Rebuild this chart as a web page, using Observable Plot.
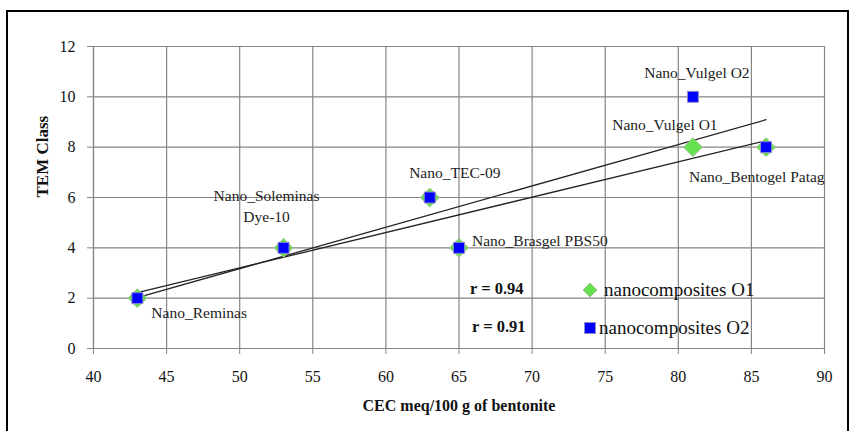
<!DOCTYPE html>
<html><head><meta charset="utf-8">
<script src="https://cdn.jsdelivr.net/npm/d3@7"></script>
<script src="https://cdn.jsdelivr.net/npm/@observablehq/plot@0.6"></script>
<style>
body{margin:0;background:#fff;font-family:"Liberation Serif","Times New Roman",serif;}
#wrap{position:relative;width:852px;height:431px;overflow:hidden;}
#frame{position:absolute;left:6px;top:10px;width:843px;height:430px;border:2px solid #000;box-sizing:border-box;pointer-events:none;}
.leg{position:absolute;font-family:"Liberation Serif","Times New Roman",serif;font-size:19px;color:#111;white-space:nowrap;line-height:1;}
.r{font-weight:bold;font-size:16.5px;}
</style></head>
<body><div id="wrap"><div id="frame"></div></div>
<script>
const cec = [43, 53, 63, 65, 81, 86];
const o1 = [2, 4, 6, 4, 8, 8];
const o2 = [2, 4, 6, 4, 10, 8];
const names = ["Nano_Reminas", "Nano_Soleminas\nDye-10", "Nano_TEC-09", "Nano_Brasgel PBS50", "Nano_Vulgel", "Nano_Bentogel Patag"];
const xTicks = [40, 45, 50, 55, 60, 65, 70, 75, 80, 85, 90];
const yTicks = [0, 2, 4, 6, 8, 10, 12];
const series = ["nanocomposites O1", "nanocomposites O2"];
const rValues = ["r = 0.94", "r = 0.91"];

const d1 = cec.map((x, i) => ({x, y: o1[i], name: names[i]}));
const d2 = cec.map((x, i) => ({x, y: o2[i], name: names[i]}));

const font = "Liberation Serif";
const FS = 15.5;
const lbl = (i, text, opts) => Plot.text([d2[i]], {x: "x", y: "y", text: () => text, fontFamily: font, fontSize: FS, fill: "#222", ...opts});

const chart = Plot.plot({
  width: 852, height: 431,
  marginLeft: 93, marginRight: 28, marginTop: 46, marginBottom: 83,
  x: {domain: [40, 90]},
  y: {domain: [0, 12]},
  style: {background: "transparent", fontFamily: font},
  marks: [
    Plot.gridX(xTicks, {stroke: "#858585", strokeOpacity: 1, strokeWidth: 1.2}),
    Plot.gridY(yTicks, {stroke: "#858585", strokeOpacity: 1, strokeWidth: 1.2}),
    Plot.axisX(xTicks, {tickSize: 6, tickPadding: 16, fontSize: 16, stroke: "#858585", fill: "#111", label: null}),
    Plot.axisY(yTicks, {tickSize: 6, tickPadding: 12, fontSize: 16, stroke: "#858585", fill: "#111", label: null}),
    Plot.ruleY([0], {stroke: "#858585", strokeWidth: 1.2}),
    Plot.ruleX([40], {stroke: "#858585", strokeWidth: 1.2}),
    Plot.linearRegressionY(d1, {x: "x", y: "y", ci: 0, stroke: "#222", strokeWidth: 1.3}),
    Plot.linearRegressionY(d2, {x: "x", y: "y", ci: 0, stroke: "#222", strokeWidth: 1.3}),
    Plot.dot(d1, {x: "x", y: "y", symbol: "diamond2", r: 8.5, fill: "#66e04c", stroke: "#9fbf96", strokeWidth: 1}),
    Plot.dot(d2.filter(d => !(d.x === 81 && d.y === 8)), {x: "x", y: "y", symbol: "square", r: 6.2, fill: "#0000ff", stroke: "#8c8cc8", strokeWidth: 1}),
    lbl(0, names[0], {textAnchor: "start", dx: 14, dy: 15}),
    lbl(1, "Nano_Soleminas", {dx: -17, dy: -52}),
    lbl(1, "Dye-10", {dx: -17, dy: -31}),
    lbl(2, names[2], {dx: 25, dy: -24}),
    lbl(3, names[3], {textAnchor: "start", dx: 13, dy: -7}),
    lbl(4, "Nano_Vulgel O2", {dx: 4, dy: -24}),
    Plot.text([d1[4]], {x: "x", y: "y", text: () => "Nano_Vulgel O1", dx: -28, dy: -22, fontFamily: font, fontSize: FS, fill: "#222"}),
    lbl(5, names[5], {textAnchor: "start", dx: -77, dy: 30}),
    Plot.text(["TEM Class"], {frameAnchor: "left", dx: -51, rotate: -90, fontFamily: font, fontSize: 17, fontWeight: "bold", fill: "#111"}),
    Plot.text(["CEC meq/100 g of bentonite"], {frameAnchor: "bottom", dy: 62, fontFamily: font, fontSize: 16, fontWeight: "bold", fill: "#111"})
  ]
});
const wrap = document.getElementById("wrap");
wrap.insertBefore(chart, wrap.firstChild);

const legend = [
  {r: rValues[0], label: series[0], top: 280, sym: '<svg width="16" height="16" style="vertical-align:middle"><polygon points="8,1 15,8 8,15 1,8" fill="#66e04c" stroke="#9fbf96"/></svg>'},
  {r: rValues[1], label: series[1], top: 318, sym: '<svg width="14" height="14" style="vertical-align:middle"><rect x="1.5" y="1.5" width="11" height="11" fill="#0000ff" stroke="#8c8cc8"/></svg>'}
];
legend.forEach((l, i) => {
  const a = document.createElement("div");
  a.className = "leg r"; a.style.left = (i === 0 ? 470 : 472) + "px"; a.style.top = (l.top + 1) + "px"; a.textContent = l.r;
  wrap.appendChild(a);
  const s = document.createElement("div");
  s.className = "leg"; s.style.left = (i === 0 ? 582 : 583) + "px"; s.style.top = (l.top - 2) + "px";
  s.innerHTML = l.sym + '<span style="margin-left:' + (i === 0 ? 6 : 2) + 'px;vertical-align:middle">' + l.label + '</span>';
  wrap.appendChild(s);
});
chart.style.position = "absolute"; chart.style.left = "0"; chart.style.top = "0";
</script>
</body></html>
